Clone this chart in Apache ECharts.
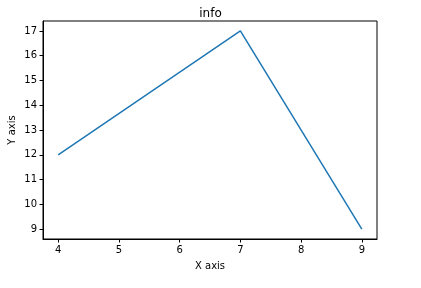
<!DOCTYPE html>
<html><head><meta charset="utf-8">
<script src="https://cdn.jsdelivr.net/npm/echarts@6/dist/echarts.min.js"></script>
<style>html,body{margin:0;padding:0;background:#fff}#c{width:421px;height:288px}</style>
</head><body><div id="c"></div>
<script>
const xValues = [4, 7, 9];
const yValues = [12, 17, 9];
const xTicks = [4, 5, 6, 7, 8, 9];
const yTicks = [9, 10, 11, 12, 13, 14, 15, 16, 17];
const titleText = 'info';
const xName = 'X axis';
const yName = 'Y axis';

const font = 'DejaVu Sans';
const chart = echarts.init(document.getElementById('c'), null, {renderer: 'canvas'});
chart.setOption({
  animation: false,
  backgroundColor: '#fff',
  title: {text: titleText, left: 'center', top: 3,
    textStyle: {fontFamily: font, fontSize: 12, fontWeight: 'normal', color: '#000'}},
  grid: {left: 43, right: 44, top: 21, bottom: 49, show: true, borderColor: '#000', borderWidth: 1,
    containLabel: false, outerBoundsMode: 'none'},
  xAxis: {type: 'value', min: 3.75, max: 9.25,
    name: xName, nameLocation: 'middle', nameGap: 22, nameMoveOverlap: false,
    nameTextStyle: {fontFamily: font, fontSize: 10, color: '#000'},
    axisLine: {show: true, onZero: false, lineStyle: {color: '#000', width: 1}},
    axisTick: {show: true, inside: false, length: 3.5, customValues: xTicks, lineStyle: {color: '#000'}},
    axisLabel: {customValues: xTicks, fontFamily: font, fontSize: 10, color: '#000', margin: 6},
    splitLine: {show: false}},
  yAxis: {type: 'value', min: 8.6, max: 17.4,
    name: yName, nameLocation: 'middle', nameGap: 26, nameRotate: 90, nameMoveOverlap: false,
    nameTextStyle: {fontFamily: font, fontSize: 10, color: '#000'},
    axisLine: {show: true, onZero: false, lineStyle: {color: '#000', width: 1}},
    axisTick: {show: true, inside: false, length: 3.5, customValues: yTicks, lineStyle: {color: '#000'}},
    axisLabel: {customValues: yTicks, fontFamily: font, fontSize: 10, color: '#000', margin: 6},
    splitLine: {show: false}},
  series: [{type: 'line', data: xValues.map((x, i) => [x, yValues[i]]),
    showSymbol: false, lineStyle: {color: '#1f77b4', width: 1.5}}]
});
</script></body></html>
